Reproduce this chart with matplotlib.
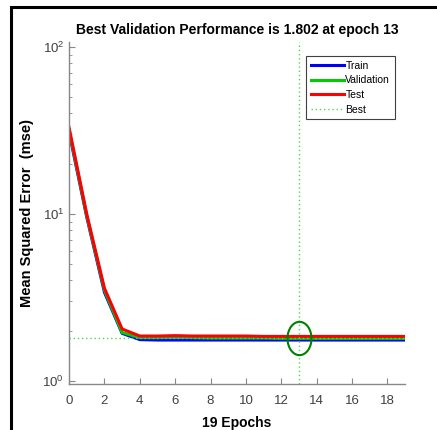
import matplotlib
matplotlib.use('Agg')
import matplotlib.pyplot as plt
import matplotlib.patches as patches
from matplotlib.markers import MarkerStyle
from matplotlib.transforms import Affine2D

plt.rcParams['font.family'] = ['Liberation Sans', 'DejaVu Sans']

# values
epochs = list(range(20))
train = [31, 9.6, 3.4, 1.93, 1.77, 1.76, 1.76, 1.76, 1.76, 1.76,
         1.76, 1.76, 1.76, 1.76, 1.76, 1.76, 1.76, 1.76, 1.76, 1.76]
validation = [32, 9.8, 3.5, 1.95, 1.82, 1.82, 1.83, 1.82, 1.81, 1.81,
              1.81, 1.81, 1.80, 1.802, 1.80, 1.80, 1.80, 1.80, 1.80, 1.80]
test = [33, 10.0, 3.6, 2.05, 1.86, 1.86, 1.87, 1.86, 1.86, 1.86,
        1.86, 1.85, 1.85, 1.85, 1.85, 1.85, 1.85, 1.85, 1.85, 1.85]
best_epoch = 13
best_perf = 1.802
xticks = list(range(0, 19, 2))

fig = plt.figure(figsize=(4.37, 4.30), dpi=100)
ax = fig.add_axes([0.158, 0.107, 0.769, 0.795])

best_col = (0.3, 0.85, 0.3)
ax.plot(epochs, train, color=(0, 0, 1), lw=2.2, label='Train')
ax.plot(epochs, validation, color=(0, 0.8, 0), lw=2.2, label='Validation')
ax.plot(epochs, test, color=(1, 0, 0), lw=2.2, label='Test')
ax.axhline(best_perf, color=best_col, lw=1.0, ls=(0, (1, 2)), label='Best')
ax.axvline(best_epoch, color=best_col, lw=1.0, ls=(0, (1, 2)))
ell = MarkerStyle('o', transform=Affine2D().scale(0.72, 1.0))
ax.plot([best_epoch], [best_perf], marker=ell, ms=24, mfc='none',
        mec=(0, 0.5, 0), mew=1.5, ls='none')

ax.set_yscale('log')
ax.set_xlim(0, 19)
ax.set_ylim(0.96, 107)
ax.set_xticks(xticks)

for s in ['top', 'right']:
    ax.spines[s].set_visible(False)
for s in ['left', 'bottom']:
    ax.spines[s].set_color('#888888')
    ax.spines[s].set_linewidth(1.0)
ax.tick_params(direction='in', colors='#888888', labelcolor='#404040',
               labelsize=9.5, length=4)
ax.tick_params(axis='x', pad=8)
ax.tick_params(which='minor', direction='in', colors='#888888', length=2)

ax.set_title('Best Validation Performance is 1.802 at epoch 13',
             fontsize=10, fontweight='bold', pad=6)
ax.set_xlabel('19 Epochs', fontsize=10, fontweight='bold')
ax.xaxis.set_label_coords(0.5, -0.095)
ax.set_ylabel('Mean Squared Error  (mse)', fontsize=10.5, fontweight='bold')
ax.yaxis.set_label_coords(-0.105, 0.5)

leg = ax.legend(loc='upper right', bbox_to_anchor=(0.985, 0.975), fontsize=7.5,
                fancybox=False, framealpha=1, edgecolor='#404040',
                handlelength=3.2, handletextpad=0.1, labelspacing=0.45,
                borderpad=0.45)
leg.get_frame().set_linewidth(0.8)

# outer frame around the figure
top = 1 - 7 / 430
fig.patches.append(patches.Rectangle((11 / 437, -0.1), 1.1, top + 0.1,
                                     transform=fig.transFigure, fill=False,
                                     edgecolor='black', lw=2.2, clip_on=False))

fig.savefig('out.png', dpi=100)
